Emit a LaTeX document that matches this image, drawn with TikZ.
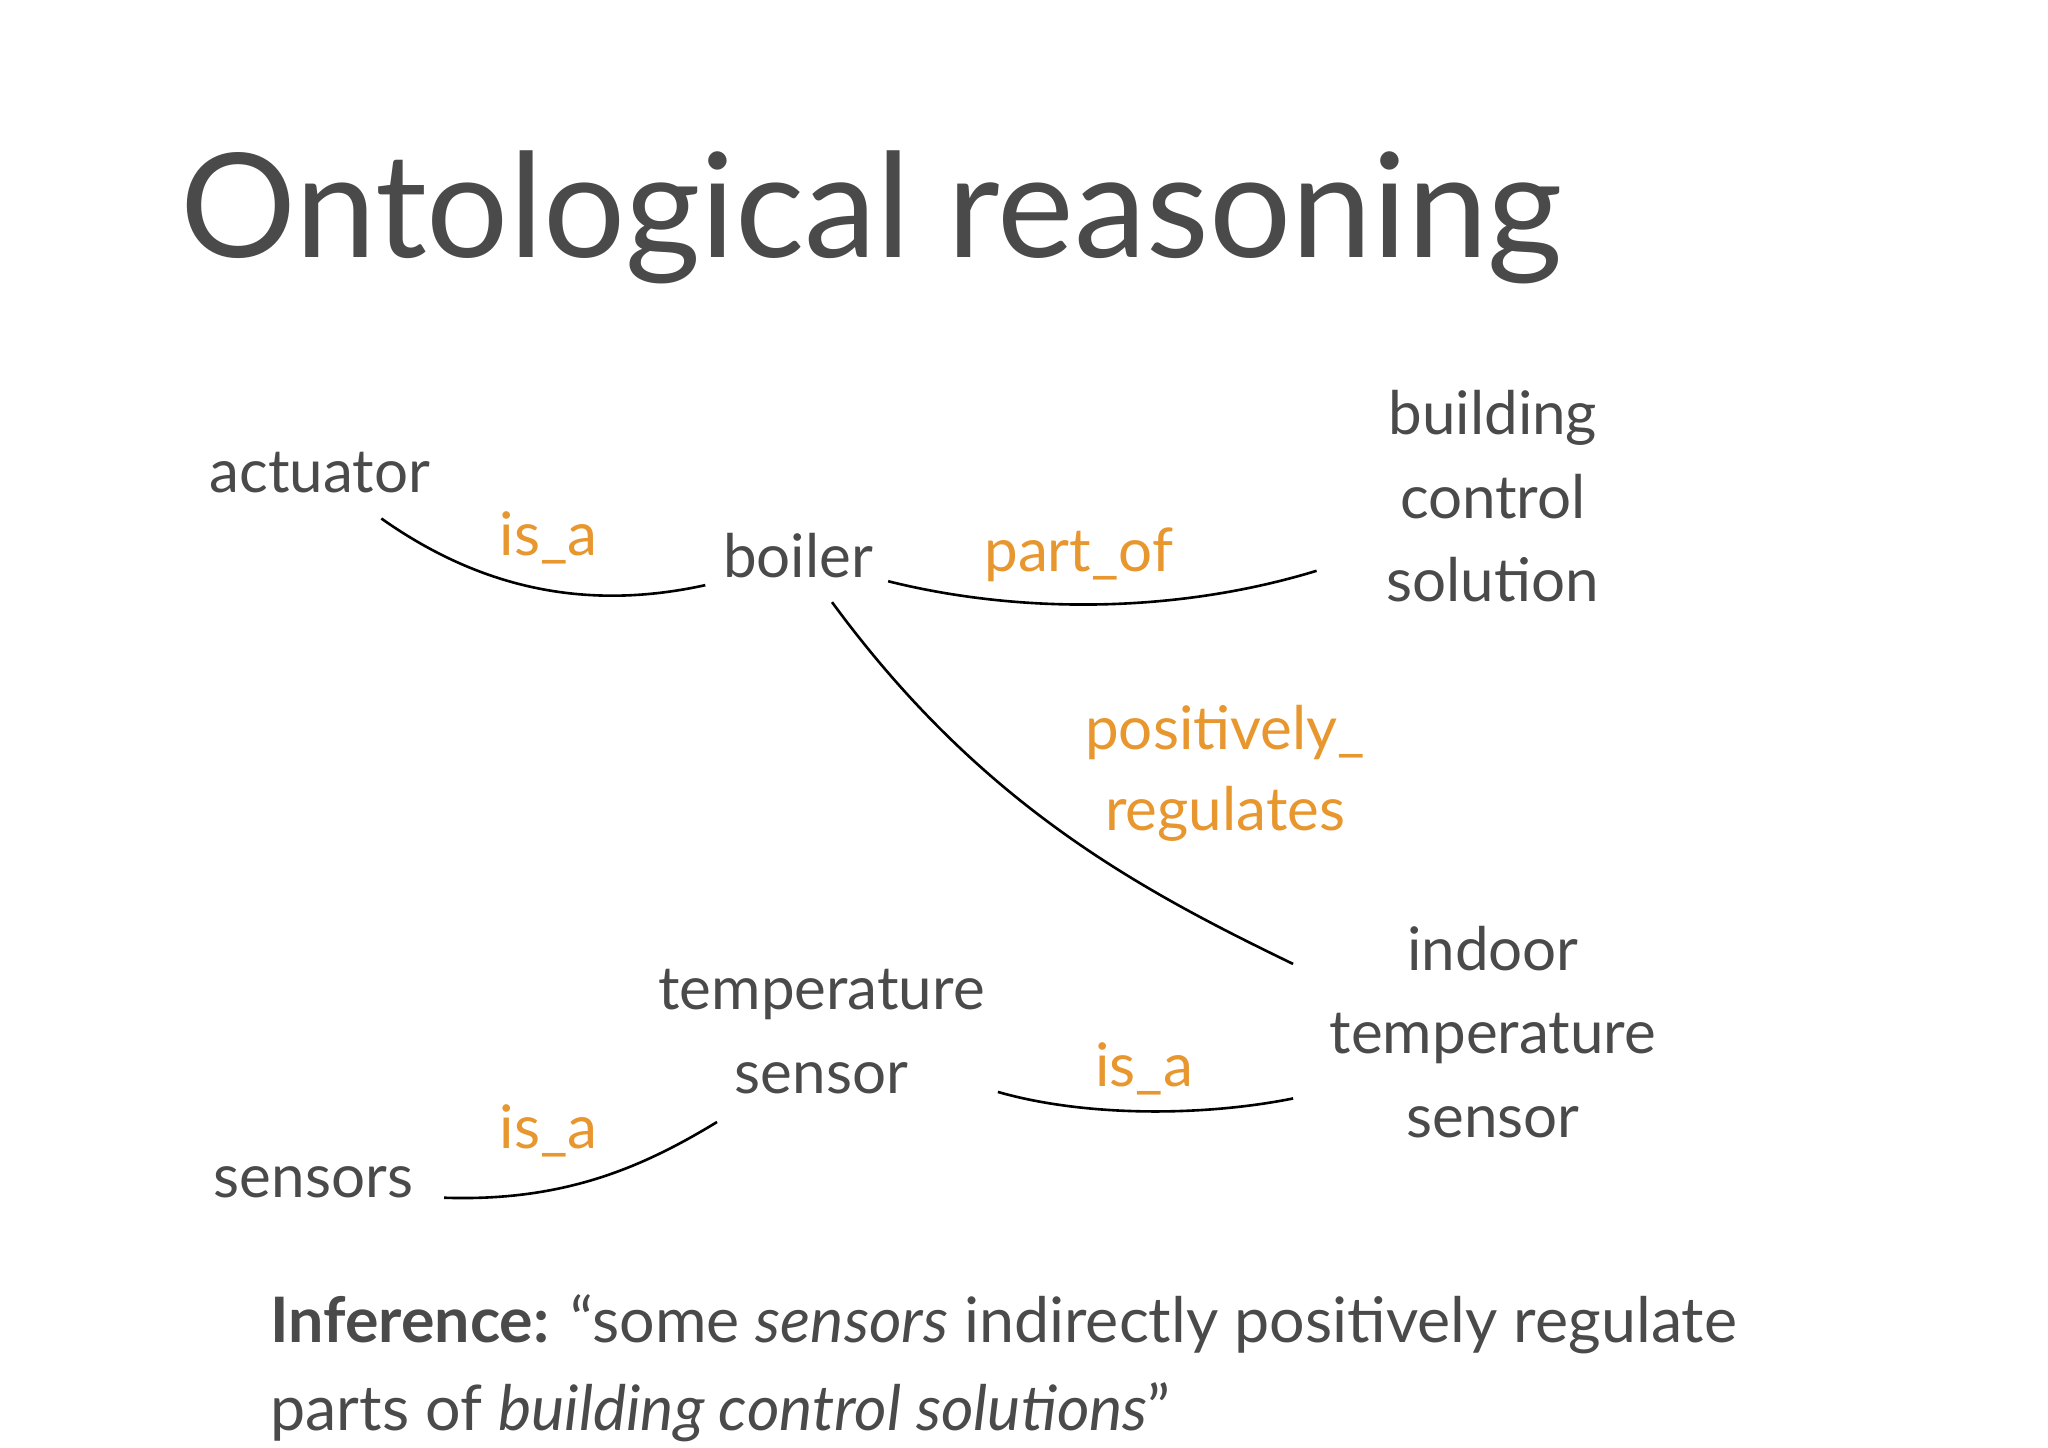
\documentclass[tikz,border=0pt]{standalone}
\usepackage{fontspec}
\setmainfont{Lato}
\begin{document}
\begin{tikzpicture}[x=1pt,y=-1pt,
  term/.style={text=txt,font=\fontsize{46}{64}\selectfont,align=center,inner sep=0},
  rel/.style={text=org,font=\fontsize{46}{62}\selectfont,align=center,inner sep=0},
  link/.style={black,line width=2pt}]
\definecolor{txt}{HTML}{4A4A4A}
\definecolor{org}{HTML}{E8962E}
\useasboundingbox[fill=white] (0,0) rectangle (1568,1108.6);
\node[anchor=base west,text=txt,inner sep=0,font=\fontsize{111}{120}\selectfont] (title) at (138,197) {Ontological reasoning};
\node[term] (act) at (245,362) {actuator};
\node[term] (boil) at (611,425) {boiler};
\node[term] (bcs) at (1143,380) {building\\control\\solution};
\node[term] (ind) at (1143,790) {indoor\\temperature\\sensor};
\node[term] (ts) at (629,790) {temperature\\sensor};
\node[term] (sen) at (240,905) {sensors};
\node[rel] (r1) at (420,412) {is\_a};
\node[rel] (r2) at (826,425) {part\_of};
\node[rel] (r3) at (938,592) {positively\_\\regulates};
\node[rel] (r4) at (876,818) {is\_a};
\node[rel] (r5) at (420,866) {is\_a};
\coordinate (a1) at (292,397); \coordinate (a2) at (540,448);
\coordinate (b1) at (680,445); \coordinate (b2) at (1008,437);
\coordinate (c1) at (637,461); \coordinate (c2) at (990,738);
\coordinate (d1) at (764,836); \coordinate (d2) at (990,841);
\coordinate (e1) at (340,917); \coordinate (e2) at (549,859);
\draw[link] (a1) .. controls (360,445) and (440,470) .. (a2);
\draw[link] (b1) .. controls (780,470) and (900,470) .. (b2);
\draw[link] (c1) .. controls (750,615) and (870,680) .. (c2);
\draw[link] (d1) .. controls (830,855) and (920,855) .. (d2);
\draw[link] (e1) .. controls (430,920) and (490,895) .. (e2);
\node[anchor=base west,text=txt,inner sep=0,font=\fontsize{48}{67}\selectfont,align=left] (inf) at (207,1095)
 {\textbf{Inference:} “some \textit{sensors} indirectly positively regulate\\parts of \textit{building control solutions}”};
\end{tikzpicture}
\end{document}
